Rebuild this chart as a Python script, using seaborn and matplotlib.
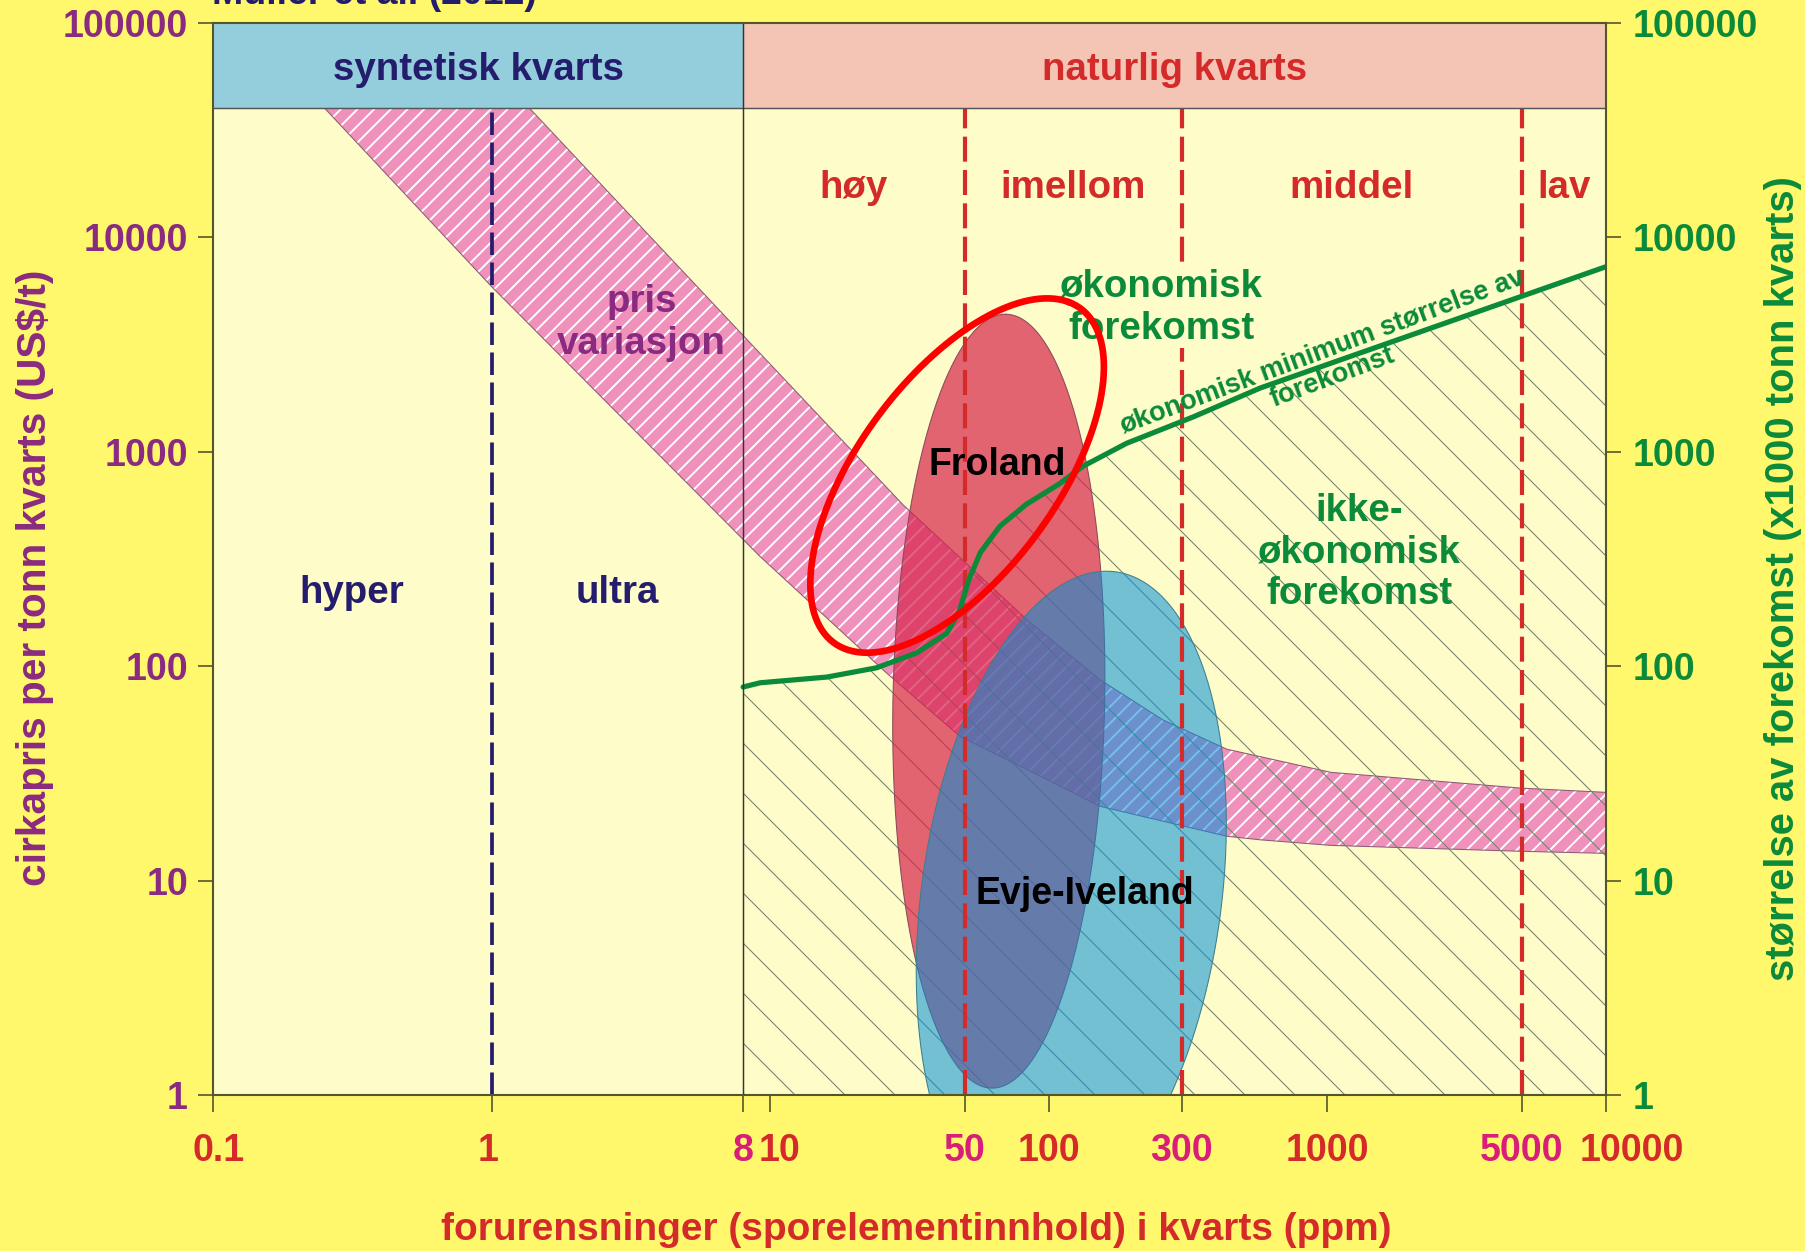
import matplotlib
matplotlib.use("Agg")
import matplotlib.pyplot as plt
from matplotlib.ticker import NullLocator
from matplotlib.transforms import ScaledTranslation
import numpy as np
import pandas as pd
import seaborn as sns

# ---- data ------------------------------------------------------------------
ppm_ticks = [0.1, 1, 8, 10, 50, 100, 300, 1000, 5000, 10000]
ppm_tick_labels = ["0.1", "1", "8", "10", "50", "100", "300", "1000", "5000", "10000"]
ppm_tick_tone = ["red", "red", "mag", "red", "mag", "red", "mag", "red", "mag", "red"]
ppm_tick_nudge = [0.04, -0.02, 0.0, 0.06, 0, 0, 0, 0, 0, 0.17]  # inches, label shift
price_ticks = [1, 10, 100, 1000, 10000, 100000]

synthetic_bounds = [0.1, 1, 8]
synthetic_classes = ["hyper", "ultra"]
natural_bounds = [8, 50, 300, 5000, 10000]
natural_classes = ["høy", "imellom", "middel", "lav"]
header_floor = 40000
header_top = 100000

# price band ("pris variasjon"), upper and lower edge
band_upper_ppm = [1.37, 8.15, 30, 83.6, 153, 258, 436, 1027, 4950, 10000]
band_upper_price = [40000, 3400, 566, 164.6, 86.4, 56, 41, 32, 27, 25.8]
band_lower_ppm = [0.252, 1.0, 9.2, 26.2, 48.1, 83.4, 153, 436, 574, 1027, 4950, 10000]
band_lower_price = [40000, 5900, 325, 92.9, 47.0, 33, 22.2, 16.1, 15.5, 14.6, 13.7, 13.4]

# minimum economic deposit size (right axis, x1000 t)
green_ppm = [8, 9.21, 16.0, 24.1, 33.6, 43.1, 47.9, 51.6, 56.8, 66.8, 83.1, 109.6,
             132.6, 190.4, 330.7, 574.4, 10000]
green_size = [80, 83.7, 89.0, 98.3, 115.4, 142.4, 182.4, 251.6, 338.4, 449.8, 569, 711,
              855.6, 1096, 1456, 1984, 7300]

# deposits: centre (ppm, price), half axes in decades, tilt (deg)
froland = dict(ppm=66.2, price=68.7, a=1.805, b=0.38, tilt=0.8)
evje = dict(ppm=120.5, price=8.3, a=1.53, b=0.54, tilt=5.4)
highlight = dict(ppm=46.9, price=775, a=0.903, b=0.381, tilt=26.4)

# ---- style -----------------------------------------------------------------
BG = "#fff86c"
PLOT_BG = "#fefcc8"
NAVY = "#241c6c"
RED = "#d42a2a"
MAG = "#d81e78"
PURPLE = "#8a2a80"
GREEN = "#0b8a3a"
AXC = "#55552a"

sns.set_theme(style="white")
plt.rcParams["font.family"] = ["Liberation Sans", "DejaVu Sans"]
plt.rcParams["font.weight"] = "bold"
plt.rcParams["hatch.linewidth"] = 0.9


def ellipse(p, n=300):
    t = np.linspace(0, 2 * np.pi, n)
    phi = np.deg2rad(p["tilt"])
    lx = np.log10(p["ppm"]) + p["a"] * np.cos(t) * np.sin(phi) + p["b"] * np.sin(t) * np.cos(phi)
    ly = np.log10(p["price"]) + p["a"] * np.cos(t) * np.cos(phi) - p["b"] * np.sin(t) * np.sin(phi)
    return 10 ** lx, 10 ** ly


def gmean(lo, hi):
    return np.sqrt(lo * hi)


fig = plt.figure(figsize=(12.04, 8.34), dpi=150, facecolor=BG)
ax = fig.add_axes([0.1179, 0.1247, 0.7713, 0.8569])
ax.set_facecolor(PLOT_BG)
ax.set_xscale("log")
ax.set_yscale("log")
ax.set_xlim(0.1, 10000)
ax.set_ylim(1, 100000)

# header strip
ax.fill_between([synthetic_bounds[0], synthetic_bounds[-1]], header_floor, header_top,
                color="#94cddc", lw=0, zorder=6)
ax.fill_between([natural_bounds[0], natural_bounds[-1]], header_floor, header_top,
                color="#f4c4b4", lw=0, zorder=6)
ax.axhline(header_floor, color="#555555", lw=0.7, zorder=6.5)
ax.axvline(synthetic_bounds[-1], color="#333333", lw=0.7, zorder=6.5)
ax.text(gmean(synthetic_bounds[0], synthetic_bounds[-1]), gmean(header_floor, header_top),
        "syntetisk kvarts", color=NAVY, fontsize=18.5, ha="center", va="center_baseline",
        zorder=7)
ax.text(gmean(natural_bounds[0], natural_bounds[-1]), gmean(header_floor, header_top),
        "naturlig kvarts", color=RED, fontsize=18.5, ha="center", va="center_baseline",
        zorder=7)

# price band
band_x = band_upper_ppm + band_lower_ppm[::-1]
band_y = band_upper_price + band_lower_price[::-1]
with plt.rc_context({"hatch.linewidth": 0.9}):
    ax.fill(band_x, band_y, facecolor="#f091bc", edgecolor="white", hatch="///", lw=0, zorder=2)
ax.fill(band_x, band_y, facecolor="none", edgecolor="#8a5a78", lw=0.5, zorder=2.1)

# non-economic area under the green curve
with plt.rc_context({"hatch.linewidth": 0.5}):
    ax.fill_between(green_ppm, 1, green_size, facecolor="none", edgecolor="#76806c",
                    hatch="\\", lw=0, zorder=2.5)

# deposits
fx, fy = ellipse(froland)
ax.fill(fx, fy, facecolor="#d6234b", alpha=0.7, edgecolor="none", zorder=3)
ax.plot(fx, fy, color="#8a4a5a", lw=0.5, zorder=3.05)
ex, ey = ellipse(evje)
ax.fill(ex, ey, facecolor="#0090da", alpha=0.55, edgecolor="none", zorder=3.1)
ax.plot(ex, ey, color="#3d7f90", lw=0.5, zorder=3.15)

# class boundaries
ax.vlines(synthetic_bounds[1:-1], 1, header_floor, color=NAVY, lw=1.8,
          linestyles=[(0, (6, 2))], zorder=4)
ax.vlines(natural_bounds[1:-1], 1, header_floor, color=RED, lw=2.0,
          linestyles=[(0, (6, 2))], zorder=4)

# green curve
sns.lineplot(x=green_ppm, y=green_size, ax=ax, color=GREEN, lw=2.5, zorder=5)

# labels in the plot
for lo, hi, name in zip(synthetic_bounds[:-1], synthetic_bounds[1:], synthetic_classes):
    ax.text(gmean(lo, hi), 230, name, color=NAVY, fontsize=18.5, ha="center",
            va="center_baseline", zorder=6)
for lo, hi, name in zip(natural_bounds[:-1], natural_bounds[1:], natural_classes):
    ax.text(gmean(lo, hi), 17700, name, color=RED, fontsize=18.5, ha="center",
            va="center_baseline", zorder=6)

ax.text(3.45, 4000, "pris\nvariasjon", color=PURPLE, fontsize=18.5, ha="center", va="center",
        zorder=6)
ax.text(253, 4700, "økonomisk\nforekomst", color=GREEN, fontsize=18.5, ha="center", va="center",
        zorder=6, bbox=dict(facecolor=PLOT_BG, edgecolor="none", pad=1))
ax.text(1303, 339, "ikke-\nøkonomisk\nforekomst", color=GREEN, fontsize=18.5, ha="center",
        va="center", zorder=6)
ax.text(1000, 2550, "økonomisk minimum størrelse av\nforekomst", color=GREEN, fontsize=13,
        ha="center", va="center", rotation=20.5, rotation_mode="anchor", linespacing=1.1,
        zorder=6)
ax.text(65.5, 910, "Froland", color="black", fontsize=18, ha="center", va="center_baseline",
        zorder=6)
ax.text(135, 9.0, "Evje-Iveland", color="black", fontsize=18, ha="center",
        va="center_baseline", zorder=6)

# highlight ring
hx, hy = ellipse(highlight)
ax.plot(hx, hy, color="#ff0000", lw=3.2, zorder=8)

# axes, ticks
ax.set_xticks(ppm_ticks, ppm_tick_labels)
ax.xaxis.set_minor_locator(NullLocator())
ax.set_yticks(price_ticks, [str(v) for v in price_ticks])
ax.yaxis.set_minor_locator(NullLocator())
ax.tick_params(axis="x", direction="out", length=8, width=0.8, color=AXC, pad=10,
               labelsize=18, bottom=True)
ax.tick_params(axis="y", direction="out", length=7, width=0.8, color=AXC, pad=5,
               labelsize=18, left=True, labelcolor=PURPLE)
for lab, tone, dx in zip(ax.get_xticklabels(), ppm_tick_tone, ppm_tick_nudge):
    lab.set_color(MAG if tone == "mag" else RED)
    lab.set_fontweight("bold")
    lab.set_transform(lab.get_transform() + ScaledTranslation(dx, 0, fig.dpi_scale_trans))
for lab in ax.get_yticklabels():
    lab.set_fontweight("bold")

for side in ["left", "right", "top", "bottom"]:
    ax.spines[side].set_color(AXC)
    ax.spines[side].set_linewidth(1.0)
    ax.spines[side].set_zorder(9)

ax.set_xlabel("forurensninger (sporelementinnhold) i kvarts (ppm)", color=RED,
              fontsize=18.7, fontweight="bold", va="center")
ax.xaxis.set_label_coords(0.505, -0.126)
ax.set_ylabel("cirkapris per tonn kvarts (US$/t)", color=PURPLE, fontsize=19.5,
              fontweight="bold", va="center")
ax.yaxis.set_label_coords(-0.128, 0.482)

ax2 = ax.twinx()
ax2.set_yscale("log")
ax2.set_ylim(1, 100000)
ax2.set_yticks(price_ticks, [str(v) for v in price_ticks])
ax2.yaxis.set_minor_locator(NullLocator())
ax2.tick_params(axis="y", direction="out", length=7, width=0.8, color=AXC, pad=6,
                labelsize=18, right=True, labelcolor=GREEN)
for lab in ax2.get_yticklabels():
    lab.set_fontweight("bold")
for side in ["left", "right", "top", "bottom"]:
    ax2.spines[side].set_visible(False)
ax2.set_ylabel("størrelse av forekomst (x1000 tonn kvarts)", color=GREEN, fontsize=19.2,
               fontweight="bold", rotation=90, va="center")
ax2.yaxis.set_label_coords(1.127, 0.482)

fig.text(0.1174, 1 - 4 / 1251, "Müller et al. (2012)", color=NAVY, fontsize=18,
         fontweight="bold", va="baseline", ha="left")

fig.savefig("out.png", dpi=150, facecolor=fig.get_facecolor())
